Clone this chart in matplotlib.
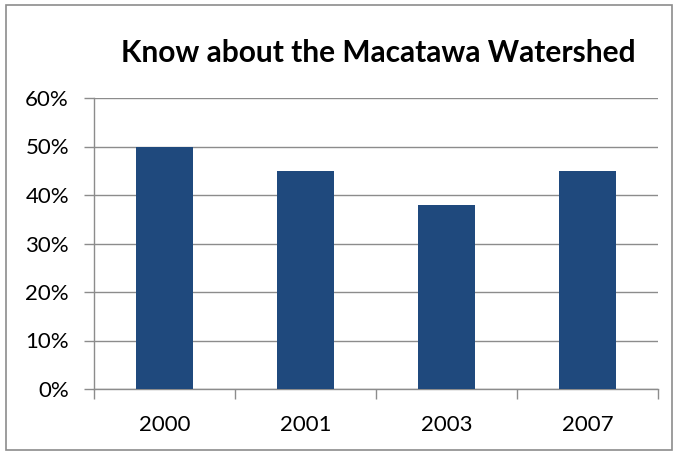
import matplotlib
matplotlib.use("Agg")
import matplotlib.pyplot as plt
from matplotlib.patches import Rectangle
from matplotlib.ticker import FixedLocator, NullFormatter, PercentFormatter

categories = ["2000", "2001", "2003", "2007"]
values = [50, 45, 38, 45]
title = "Know about the Macatawa Watershed"

plt.rcParams['font.family'] = ['Lato', 'DejaVu Sans']

fig = plt.figure(figsize=(6.79, 4.55), dpi=100)
fig.patch.set_facecolor('white')
fig.patches.append(Rectangle((6/679, 1 - 450/455), 666/679, 445/455,
                             transform=fig.transFigure, fill=False,
                             edgecolor='#8c8c8c', linewidth=1.2))

ax = fig.add_axes([94/679, 1 - 389/455, 564/679, 291/455])
x = list(range(len(categories)))
ax.bar(x, values, width=0.4, color='#1F497D', zorder=3)
ax.set_xlim(-0.5, len(categories) - 0.5)
ax.set_ylim(0, 60)
ax.set_yticks([0, 10, 20, 30, 40, 50, 60])
ax.yaxis.set_major_formatter(PercentFormatter(decimals=0))
ax.grid(axis='y', color='#8c8c8c', linewidth=1.0, zorder=0)

ax.set_xticks(x)
ax.set_xticklabels(categories)
ax.xaxis.set_minor_locator(FixedLocator([i - 0.5 for i in range(len(categories) + 1)]))
ax.xaxis.set_minor_formatter(NullFormatter())
ax.tick_params(axis='x', which='major', length=0, pad=19, labelsize=16)
ax.tick_params(axis='x', which='minor', length=7, color='#8c8c8c', width=1)
ax.tick_params(axis='y', length=7, color='#8c8c8c', width=1, labelsize=16, pad=11)

for s in ['top', 'right']:
    ax.spines[s].set_visible(False)
for s in ['left', 'bottom']:
    ax.spines[s].set_color('#8c8c8c')
    ax.spines[s].set_linewidth(1.0)

fig.text(378/679, 1 - 53/455, title, ha='center', va='center',
         fontsize=21.5, fontweight='bold', color='black')

fig.savefig("out.png", dpi=100)
